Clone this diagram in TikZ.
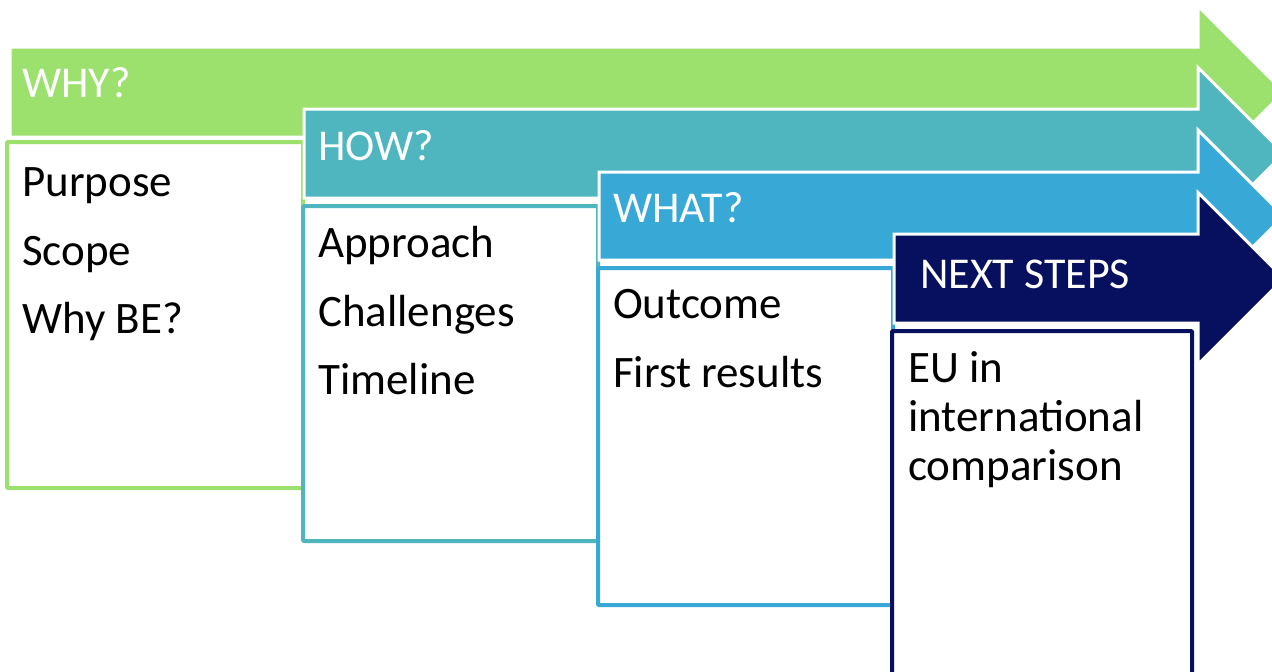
\documentclass[tikz,border=0pt]{standalone}
\usepackage{fontspec}
\setmainfont{Carlito}
\definecolor{cgreen}{RGB}{156,224,109}
\definecolor{cteal}{RGB}{79,182,192}
\definecolor{cblue}{RGB}{56,168,214}
\definecolor{cnavy}{RGB}{7,16,94}
\tikzset{
  hdr/.style={fill=#1, draw=white, line width=3pt, line join=miter},
  box/.style={fill=white, draw=#1, line width=4pt, rounded corners=1pt},
  htext/.style={text=white, inner sep=0pt, anchor=base west, font=\fontsize{44}{49}\selectfont},
  btext/.style={text=black, inner sep=0pt, anchor=base west, align=left, font=\fontsize{45}{49}\selectfont},
}
\newcommand{\hdrpath}[3]{% left, top, bottom
  (#1,#2) -- (1198,#2) -- (1198,{(#2+#3)/2-86}) -- (1284,{(#2+#3)/2}) -- (1198,{(#2+#3)/2+86}) -- (1198,#3) -- (#1,#3) -- cycle}
\begin{document}
\begin{tikzpicture}[x=1pt,y=-1pt]
\clip (0,0) rectangle (1272,672);
\fill[white] (0,0) rectangle (1272,672);
% WHY
\draw[hdr=cgreen] \hdrpath{10}{47}{137};
\draw[box=cgreen] (7,142) rectangle (303,488);
\node[htext] (why) at (22,97) {WHY?};
\node[btext] (purpose) at (22,196) {Purpose};
\node[btext] (scope) at (22,265) {Scope};
\node[btext] (whybe) at (22,333) {Why BE?};
% HOW
\draw[hdr=cteal] \hdrpath{304}{109}{198};
\draw[box=cteal] (303,206) rectangle (598,541);
\node[htext] (how) at (318,160) {HOW?};
\node[btext] (approach) at (318,257) {Approach};
\node[btext] (challenges) at (318,326) {Challenges};
\node[btext] (timeline) at (318,394) {Timeline};
% WHAT
\draw[hdr=cblue] \hdrpath{599}{172}{260};
\draw[box=cblue] (598,268) rectangle (893,605);
\node[htext] (what) at (613,222) {WHAT?};
\node[btext] (outcome) at (613,318) {Outcome};
\node[btext] (first) at (613,387) {First results};
% NEXT STEPS
\draw[hdr=cnavy] \hdrpath{894}{234}{323};
\draw[box=cnavy] (892,331) rectangle (1192,690);
\node[htext] (next) at (920,288) {NEXT STEPS};
\node[btext] (eu) at (908,480) {EU in\\international\\comparison};
\end{tikzpicture}
\end{document}
